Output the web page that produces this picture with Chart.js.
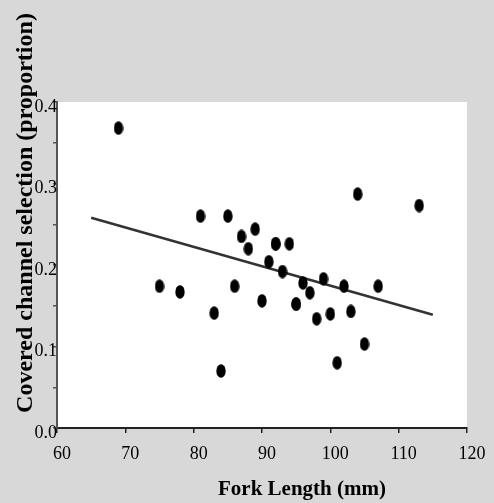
<!DOCTYPE html>
<html>
<head>
<meta charset="utf-8">
<script src="https://cdn.jsdelivr.net/npm/chart.js@4/dist/chart.umd.min.js"></script>
<style>
  html, body { margin: 0; padding: 0; background: #d8d8d8; }
  #wrap { width: 494px; height: 503px; }
</style>
</head>
<body>
<div id="wrap"><canvas id="forkChart" width="494" height="503"></canvas></div>
<script>
// Fork length (mm) vs covered channel selection (proportion)
const forkLength = [69, 75, 78, 81, 83, 84, 85, 86, 87, 88, 89, 90, 91, 92, 92, 93, 94, 95, 95, 96, 97, 98, 99, 100, 101, 102, 103, 104, 105, 107, 113];
const selection = [0.368, 0.174, 0.167, 0.260, 0.141, 0.070, 0.260, 0.174, 0.235, 0.220, 0.244, 0.156, 0.204, 0.226, 0.226, 0.192, 0.226, 0.152, 0.152, 0.178, 0.166, 0.134, 0.183, 0.140, 0.080, 0.174, 0.143, 0.287, 0.103, 0.174, 0.273];
// fitted trend line end points
const trendX = [65, 115];
const trendY = [0.258, 0.139];

const xTicks = [60, 70, 80, 90, 100, 110, 120];

// black vertical ellipse used as marker
const dot = document.createElement("canvas");
dot.width = 10;
dot.height = 14;
const dctx = dot.getContext("2d");
dctx.fillStyle = "#000";
dctx.beginPath();
dctx.ellipse(5, 7, 4.7, 6.7, 0, 0, Math.PI * 2);
dctx.fill();

const serif = "'Liberation Serif', 'Times New Roman', serif";

// white plot area + axis titles
const decor = {
  id: "decor",
  beforeDraw(chart) {
    const { ctx, chartArea } = chart;
    ctx.save();
    ctx.fillStyle = "#fff";
    ctx.fillRect(chartArea.left, chartArea.top, chartArea.right - chartArea.left, chartArea.bottom - chartArea.top);
    ctx.restore();
  },
  afterDraw(chart) {
    const { ctx } = chart;
    ctx.save();
    ctx.fillStyle = "#000";
    ctx.textAlign = "center";
    ctx.textBaseline = "alphabetic";
    ctx.font = "bold 21px " + serif;
    ctx.fillText("Fork Length (mm)", 302, 495);
    ctx.font = "bold 24px " + serif;
    ctx.translate(32, 213);
    ctx.rotate(-Math.PI / 2);
    ctx.fillText("Covered channel selection (proportion)", 0, 0);
    ctx.restore();
  },
};

new Chart(document.getElementById("forkChart"), {
  type: "scatter",
  data: {
    datasets: [
      {
        label: "Fish",
        data: forkLength.map((x, i) => ({ x: x, y: selection[i] })),
        pointStyle: dot,
        pointRadius: 6,
        pointHoverRadius: 6,
      },
      {
        label: "Trend",
        type: "line",
        data: trendX.map((x, i) => ({ x: x, y: trendY[i] })),
        borderColor: "#333",
        borderWidth: 2.5,
        pointRadius: 0,
        fill: false,
      },
    ],
  },
  options: {
    responsive: false,
    animation: false,
    layout: { padding: { top: 102, right: 27, left: 0, bottom: 0 } },
    plugins: { legend: { display: false }, tooltip: { enabled: false } },
    scales: {
      x: {
        type: "linear",
        min: 60,
        max: 120,
        afterFit: (s) => { s.height = 75; },
        afterBuildTicks: (s) => { s.ticks = xTicks.map((v) => ({ value: v })); },
        border: { display: true, color: "#222", width: 2 },
        grid: { display: true, drawOnChartArea: false, drawTicks: true, tickLength: 5, color: "#222", lineWidth: 1.5 },
        ticks: {
          color: "#000",
          font: { family: serif, size: 18 },
          padding: 10,
          labelOffset: 5,
          maxRotation: 0,
        },
      },
      y: {
        min: 0,
        max: 0.4,
        afterFit: (s) => { s.width = 57; },
        border: { display: true, color: "#555", width: 2 },
        grid: { display: true, drawOnChartArea: false, drawTicks: true, tickLength: 4, color: "#555", lineWidth: 1.5 },
        ticks: {
          stepSize: 0.05,
          color: "#000",
          font: { family: serif, size: 18 },
          padding: -4,
          labelOffset: 5,
          callback: (v) => (Math.round(v * 100) % 10 === 0 ? v.toFixed(1) : ""),
        },
      },
    },
  },
  plugins: [decor],
});
</script>
</body>
</html>
